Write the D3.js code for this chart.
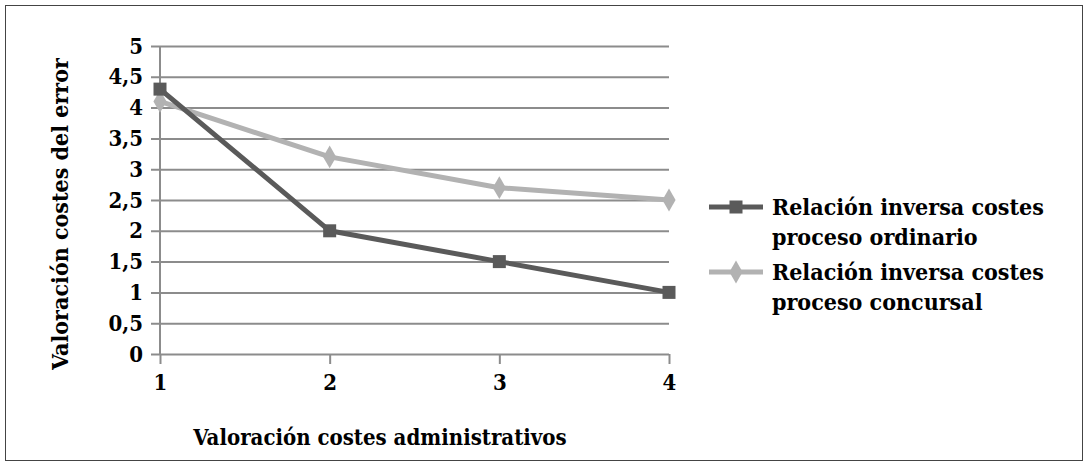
<!DOCTYPE html>
<html>
<head>
<meta charset="utf-8">
<script src="https://cdn.jsdelivr.net/npm/d3@7"></script>
<style>
  body { margin: 0; background: #fff; }
  text, tspan { font-family: "DejaVu Serif Condensed", "DejaVu Serif", serif; font-stretch: condensed; font-weight: bold; fill: #000; }
</style>
</head>
<body>
<div id="chart"></div>
<script>
var categories = [1, 2, 3, 4];
var yTicks = [0, 0.5, 1, 1.5, 2, 2.5, 3, 3.5, 4, 4.5, 5];
var ordinario = [4.3, 2, 1.5, 1];
var concursal = [4.1, 3.2, 2.7, 2.5];
var seriesNames = [
    ["Relación inversa costes", "proceso ordinario"],
    ["Relación inversa costes", "proceso concursal"]
];

var width = 1088, height = 466,
    margin = { top: 46, right: 419, bottom: 112, left: 160 },
    fontSize = "22px";

var svg = d3.select("#chart").append("svg")
    .attr("width", width).attr("height", height);

// outer frame
svg.append("rect")
    .attr("x", 5.5).attr("y", 5.5)
    .attr("width", width - 11).attr("height", height - 11)
    .attr("fill", "#fff").attr("stroke", "#444").attr("stroke-width", 1);

var x = d3.scalePoint()
    .domain(categories)
    .range([margin.left, width - margin.right]);
var y = d3.scaleLinear()
    .domain([0, 5])
    .range([height - margin.bottom, margin.top]);

var fmt = function(d) { return String(d).replace(".", ","); };

// gridlines + y labels
var gy = svg.append("g")
    .attr("transform", "translate(" + margin.left + ",0)")
    .call(d3.axisLeft(y).tickValues(yTicks).tickFormat(fmt)
        .tickSize(-(width - margin.left - margin.right)).tickSizeOuter(0).tickPadding(8));
gy.select(".domain").remove();
gy.selectAll(".tick line").attr("stroke", "#8c8c8c").attr("stroke-width", 2)
    .attr("x1", -9);
gy.selectAll(".tick text").style("font-size", fontSize).attr("x", -17);

// x axis
var gx = svg.append("g")
    .attr("transform", "translate(0," + y(0) + ")")
    .call(d3.axisBottom(x).tickSize(10).tickPadding(8));
gx.select(".domain").remove();
gx.selectAll(".tick line").attr("stroke", "#8c8c8c").attr("stroke-width", 2);
gx.selectAll(".tick text").style("font-size", fontSize).attr("dy", "0.8em");

// vertical axis line
svg.append("line")
    .attr("x1", x(1)).attr("x2", x(1))
    .attr("y1", y(5)).attr("y2", y(0))
    .attr("stroke", "#8c8c8c").attr("stroke-width", 2);

var line = d3.line()
    .x(function(d, i) { return x(categories[i]); })
    .y(function(d) { return y(d); });

svg.append("path").datum(concursal)
    .attr("d", line).attr("fill", "none")
    .attr("stroke", "#b2b2b2").attr("stroke-width", 5)
    .attr("stroke-linejoin", "round");
svg.append("path").datum(ordinario)
    .attr("d", line).attr("fill", "none")
    .attr("stroke", "#5a5a5a").attr("stroke-width", 5)
    .attr("stroke-linejoin", "round");

var diamond = d3.symbol().type(d3.symbolDiamond).size(150);
svg.selectAll(".dia").data(concursal).enter().append("path")
    .attr("class", "dia")
    .attr("d", diamond)
    .attr("transform", function(d, i) { return "translate(" + x(categories[i]) + "," + y(d) + ")"; })
    .attr("fill", "#b2b2b2");

svg.selectAll(".sq").data(ordinario).enter().append("rect")
    .attr("class", "sq")
    .attr("x", function(d, i) { return x(categories[i]) - 6.5; })
    .attr("y", function(d) { return y(d) - 6.5; })
    .attr("width", 13).attr("height", 13)
    .attr("fill", "#5a5a5a");

// axis titles
svg.append("text")
    .attr("transform", "translate(68,214) rotate(-90)")
    .attr("text-anchor", "middle")
    .style("font-size", "23px")
    .text("Valoración costes del error");
svg.append("text")
    .attr("x", 380).attr("y", 445)
    .attr("text-anchor", "middle")
    .style("font-size", fontSize)
    .text("Valoración costes administrativos");

// legend
var legendColors = ["#5a5a5a", "#b2b2b2"];
var legend = svg.selectAll(".legend").data(seriesNames).enter().append("g")
    .attr("class", "legend")
    .attr("transform", function(d, i) { return "translate(709," + (207 + i * 65) + ")"; });
legend.append("line")
    .attr("x1", 0).attr("x2", 54).attr("y1", 0).attr("y2", 0)
    .attr("stroke", function(d, i) { return legendColors[i]; })
    .attr("stroke-width", 5);
legend.each(function(d, i) {
    var g = d3.select(this);
    if (i === 0) {
        g.append("rect").attr("x", 20.5).attr("y", -6.5).attr("width", 13).attr("height", 13)
            .attr("fill", legendColors[i]);
    } else {
        g.append("path").attr("d", diamond).attr("transform", "translate(27,0)")
            .attr("fill", legendColors[i]);
    }
});
legend.append("text")
    .attr("x", 63).attr("y", 8)
    .style("font-size", "23px")
    .selectAll("tspan").data(function(d) { return d; }).enter().append("tspan")
    .attr("x", 63)
    .attr("dy", function(d, i) { return i ? 30 : 0; })
    .text(function(d) { return d; });
</script>
</body>
</html>
